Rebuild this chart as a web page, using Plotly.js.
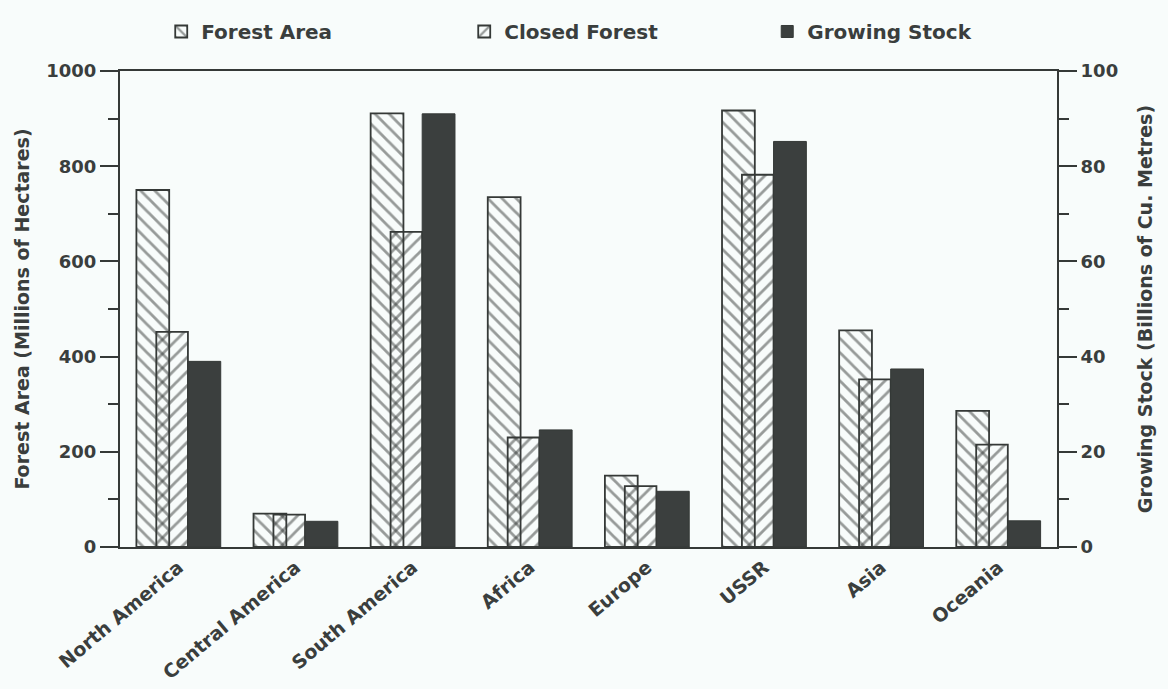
<!DOCTYPE html>
<html>
<head>
<meta charset="utf-8">
<script src="https://cdn.plot.ly/plotly-3.0.1.min.js"></script>
<style>html,body{margin:0;padding:0;background:#f8fcfb;}#chart{width:1168px;height:689px;}</style>
</head>
<body>
<div id="chart"></div>
<script>
const regions = ["North America", "Central America", "South America", "Africa", "Europe", "USSR", "Asia", "Oceania"];
const forestArea = [750, 70, 911, 735, 150, 917, 455, 286];
const closedForest = [452, 68, 662, 230, 128, 782, 352, 215];
const growingStock = [39, 5.4, 91, 24.6, 11.7, 85.2, 37.4, 5.5];

const ink = '#353937';
const fontFam = '"DejaVu Sans", Arial, sans-serif';

const traces = [
  {
    type: 'bar', name: 'Forest Area', x: regions, y: forestArea,
    offset: -0.36, width: 0.28,
    marker: {color: 'rgba(0,0,0,0)', line: {color: ink, width: 1.8},
      pattern: {shape: '\\', size: 10, solidity: 0.28, fgcolor: ink, bgcolor: 'rgba(0,0,0,0)', fillmode: 'overlay'}}
  },
  {
    type: 'bar', name: 'Closed Forest', x: regions, y: closedForest,
    offset: -0.19, width: 0.27,
    marker: {color: 'rgba(0,0,0,0)', line: {color: ink, width: 1.8},
      pattern: {shape: '/', size: 10, solidity: 0.28, fgcolor: ink, bgcolor: 'rgba(0,0,0,0)', fillmode: 'overlay'}}
  },
  {
    type: 'bar', name: 'Growing Stock', x: regions, y: growingStock, yaxis: 'y2',
    offset: 0.08, width: 0.28,
    marker: {color: '#3b3f3e', line: {color: ink, width: 1}}
  }
];

const tickFont = {family: fontFam, size: 18, color: '#3a3e3d', weight: 'bold'};
const titleFont = {family: fontFam, size: 19, color: '#3a3e3d', weight: 'bold'};

const layout = {
  width: 1168, height: 689,
  margin: {l: 120, r: 111, t: 67, b: 142},
  paper_bgcolor: '#f8fcfb', plot_bgcolor: '#f8fcfb',
  barmode: 'overlay',
  showlegend: true,
  legend: {orientation: 'h', x: 0.044, xanchor: 'left', y: 1.083, yanchor: 'middle',
    font: {family: fontFam, size: 20, color: '#3a3e3d', weight: 'bold'},
    entrywidth: 258, bgcolor: 'rgba(0,0,0,0)', traceorder: 'normal'},
  xaxis: {
    type: 'category', showline: true, mirror: true, linecolor: ink, linewidth: 2,
    ticks: '', tickangle: -40, tickfont: {family: fontFam, size: 19, color: '#3a3e3d', weight: 'bold'},
    showgrid: false, zeroline: false
  },
  yaxis: {
    range: [0, 1000], dtick: 200, tick0: 0, showline: true, linecolor: ink, linewidth: 2,
    ticks: 'outside', ticklen: 18, tickwidth: 2, tickcolor: ink,
    minor: {dtick: 100, ticks: 'outside', ticklen: 10, tickwidth: 2, tickcolor: ink},
    tickfont: tickFont, showgrid: false, zeroline: false,
    title: {text: 'Forest Area (Millions of Hectares)', font: titleFont, standoff: 12}
  },
  yaxis2: {
    range: [0, 100], dtick: 20, tick0: 0, overlaying: 'y', side: 'right',
    showline: true, linecolor: ink, linewidth: 2,
    ticks: 'outside', ticklen: 18, tickwidth: 2, tickcolor: ink,
    minor: {dtick: 10, ticks: 'outside', ticklen: 10, tickwidth: 2, tickcolor: ink},
    tickfont: tickFont, showgrid: false, zeroline: false,
    title: {text: 'Growing Stock (Billions of Cu. Metres)', font: titleFont, standoff: 22}
  }
};

Plotly.newPlot('chart', traces, layout, {displayModeBar: false, staticPlot: true});
</script>
</body>
</html>
